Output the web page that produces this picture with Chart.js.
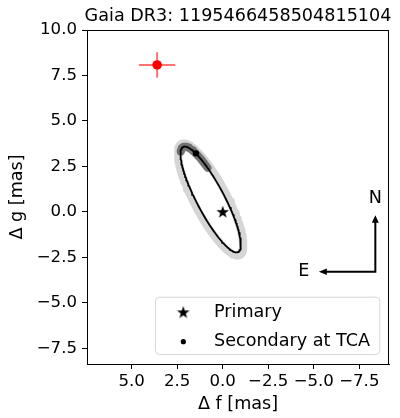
<!DOCTYPE html>
<html><head><meta charset="utf-8">
<script src="https://cdn.jsdelivr.net/npm/chart.js@4.4.0/dist/chart.umd.min.js"></script>
<style>html,body{margin:0;padding:0;background:#fff}#wrap{width:400px;height:418px}</style>
</head><body><div id="wrap"><canvas id="c" width="400" height="418"></canvas></div>
<script>
// ---- data ----
const titleText = 'Gaia DR3: 1195466458504815104';
const xLabel = 'Δ f [mas]';
const yLabel = 'Δ g [mas]';
const xTicks = [5.0, 2.5, 0.0, -2.5, -5.0, -7.5];
const yTicks = [10.0, 7.5, 5.0, 2.5, 0.0, -2.5, -5.0, -7.5];
const xRange = [-9.13, 7.45];
const yRange = [-8.36, 10.0];
const primary = [0.0, 0.0];
const secondaryTCA = [1.47, 3.22];
const measured = [3.6, 8.08];
const measuredErr = [1.0, 0.7];
const orbitEllipse = {center: [0.66, 0.68], semiMajor: 3.26, semiMinor: 0.76, angleDeg: 62.3};
const bandEllipse  = {center: [0.66, 0.68], semiMajor: 3.45, semiMinor: 0.90, angleDeg: 62.3};
const tcaArcDeg = [-18, 60];
const compassOrigin = [-8.38, -3.29];
const compassLength = 3.1;
const compassLabels = ['N', 'E'];
const legendLabels = ['Primary', 'Secondary at TCA'];

const FONT = "'DejaVu Sans', 'Liberation Sans', sans-serif";

function ellipsePoints(e, t0, t1, step) {
  const th = e.angleDeg * Math.PI / 180;
  const pts = [];
  for (let d = t0; d <= t1 + 1e-9; d += step) {
    const t = d * Math.PI / 180;
    const a = e.semiMajor * Math.cos(t), b = e.semiMinor * Math.sin(t);
    pts.push({x: e.center[0] + a * Math.cos(th) - b * Math.sin(th),
              y: e.center[1] + a * Math.sin(th) + b * Math.cos(th)});
  }
  return pts;
}

// filled star marker
const starImg = document.createElement('canvas');
starImg.width = 14; starImg.height = 14;
(function(){
  const g = starImg.getContext('2d');
  g.beginPath();
  for (let i = 0; i < 10; i++) {
    const r = i % 2 === 0 ? 6.6 : 2.6;
    const a = -Math.PI / 2 + i * Math.PI / 5;
    const px = 7 + r * Math.cos(a), py = 7.4 + r * Math.sin(a);
    if (i === 0) g.moveTo(px, py); else g.lineTo(px, py);
  }
  g.closePath(); g.fillStyle = '#000'; g.fill();
})();

const fmt = v => (v < 0 ? '\u2212' : '') + Math.abs(v).toFixed(1);

const overlay = {
  id: 'overlay',
  afterDraw(chart) {
    const {ctx, chartArea: ca, scales: {x, y}} = chart;
    ctx.save();
    // frame
    ctx.strokeStyle = '#000'; ctx.lineWidth = 1;
    ctx.strokeRect(Math.round(ca.left) + 0.5, Math.round(ca.top) + 0.5, Math.round(ca.right - ca.left) - 1, Math.round(ca.bottom - ca.top));
    // title
    ctx.fillStyle = '#000';
    ctx.font = '17.6px ' + FONT;
    ctx.textAlign = 'center'; ctx.textBaseline = 'middle';
    ctx.fillText(titleText, (ca.left + ca.right) / 2, 16.5);
    // compass (x axis is reversed: east = increasing f = leftwards)
    const ox = x.getPixelForValue(compassOrigin[0]), oy = y.getPixelForValue(compassOrigin[1]);
    const nx = ox, ny = y.getPixelForValue(compassOrigin[1] + compassLength);
    const ex = x.getPixelForValue(compassOrigin[0] + compassLength), ey = oy;
    ctx.lineWidth = 2; ctx.strokeStyle = '#000'; ctx.lineJoin = 'miter';
    ctx.beginPath(); ctx.moveTo(nx, ny + 6); ctx.lineTo(ox, oy); ctx.lineTo(ex + 6, ey); ctx.stroke();
    ctx.beginPath(); ctx.moveTo(nx, ny); ctx.lineTo(nx - 3.5, ny + 7.5); ctx.lineTo(nx + 3.5, ny + 7.5); ctx.closePath(); ctx.fill();
    ctx.beginPath(); ctx.moveTo(ex, ey); ctx.lineTo(ex + 8, ey - 3.2); ctx.lineTo(ex + 8, ey + 3.2); ctx.closePath(); ctx.fill();
    ctx.font = '17.6px ' + FONT;
    ctx.fillText(compassLabels[0], nx, ny - 16.5);
    ctx.fillText(compassLabels[1], ex - 15, ey);
    // legend
    const bx = ca.right - 234, by = ca.bottom - 67.3, bw = 224.3, bh = 57.3;
    ctx.beginPath();
    ctx.roundRect(bx + 0.5, by + 0.5, bw, bh, 4);
    ctx.fillStyle = 'rgba(255,255,255,0.8)'; ctx.fill();
    ctx.strokeStyle = '#d6d6d6'; ctx.lineWidth = 1; ctx.stroke();
    const rows = [by + 16, by + 45];
    ctx.drawImage(starImg, bx + 28.3 - 7, rows[0] - 7.4);
    ctx.fillStyle = '#000';
    ctx.beginPath(); ctx.arc(bx + 28.3, rows[1], 2.6, 0, Math.PI * 2); ctx.fill();
    ctx.textAlign = 'left'; ctx.textBaseline = 'middle';
    ctx.fillText(legendLabels[0], bx + 59, rows[0]);
    ctx.fillText(legendLabels[1], bx + 59, rows[1]);
    ctx.restore();
  }
};

const axisCommon = {
  type: 'linear',
  ticks: {callback: fmt, font: {family: FONT, size: 16.6}, color: '#000', autoSkip: false, maxRotation: 0, includeBounds: false},
  grid: {display: true, drawOnChartArea: false, drawTicks: true, tickLength: 5, tickWidth: 1, tickColor: '#000'},
  border: {display: true, color: '#000', width: 1}
};

const curve = {showLine: true, pointRadius: 0, borderJoinStyle: 'round', borderCapStyle: 'round'};

new Chart(document.getElementById('c'), {
  type: 'scatter',
  data: {datasets: [
    {label: legendLabels[0], data: [{x: primary[0], y: primary[1]}], pointStyle: starImg, order: 0},
    {label: legendLabels[1], data: [{x: secondaryTCA[0], y: secondaryTCA[1]}], pointStyle: 'circle', pointRadius: 3.2, backgroundColor: '#000', borderWidth: 0, order: 1},
    {label: '', data: [{x: measured[0], y: measured[1]}], pointStyle: 'circle', pointRadius: 4.8, backgroundColor: '#ff0000', borderWidth: 0, order: 2},
    Object.assign({label: '', data: [{x: measured[0] - measuredErr[0], y: measured[1]}, {x: measured[0] + measuredErr[0], y: measured[1]}], borderColor: 'rgba(255,40,40,0.65)', borderWidth: 2, order: 3}, curve, {borderCapStyle: 'butt'}),
    Object.assign({label: '', data: [{x: measured[0], y: measured[1] - measuredErr[1]}, {x: measured[0], y: measured[1] + measuredErr[1]}], borderColor: 'rgba(255,40,40,0.65)', borderWidth: 2, order: 3}, curve, {borderCapStyle: 'butt'}),
    Object.assign({label: '', data: ellipsePoints(orbitEllipse, 0, 360, 2), borderColor: '#000', borderWidth: 1.8, order: 4}, curve),
    Object.assign({label: '', data: ellipsePoints(orbitEllipse, tcaArcDeg[0], tcaArcDeg[1], 2), borderColor: 'rgba(95,95,95,0.85)', borderWidth: 8, order: 5}, curve),
    Object.assign({label: '', data: ellipsePoints(bandEllipse, 0, 360, 2), borderColor: '#d6d6d6', borderWidth: 8, order: 6}, curve)
  ]},
  options: {
    responsive: false, animation: false, devicePixelRatio: 1,
    layout: {padding: {top: 30, right: 11, left: 0, bottom: 0}},
    plugins: {legend: {display: false}, tooltip: {enabled: false}, title: {display: false}},
    elements: {line: {tension: 0}},
    scales: {
      x: Object.assign({}, axisCommon, {
        position: 'bottom', reverse: true, min: xRange[0], max: xRange[1],
        afterBuildTicks: s => { s.ticks = xTicks.map(v => ({value: v})); },
        afterFit: s => { s.height = 54; },
        ticks: Object.assign({}, axisCommon.ticks, {padding: 3}),
        title: {display: true, text: xLabel, color: '#000', font: {family: FONT, size: 17.6}, padding: {top: 0, bottom: 3.5}}
      }),
      y: Object.assign({}, axisCommon, {
        position: 'left', min: yRange[0], max: yRange[1],
        afterBuildTicks: s => { s.ticks = yTicks.map(v => ({value: v})); },
        afterFit: s => { s.width = 87; },
        ticks: Object.assign({}, axisCommon.ticks, {padding: 5}),
        title: {display: true, text: yLabel, color: '#000', font: {family: FONT, size: 17.6}, padding: {top: 7, bottom: 0}}
      })
    }
  },
  plugins: [overlay]
});
</script></body></html>
